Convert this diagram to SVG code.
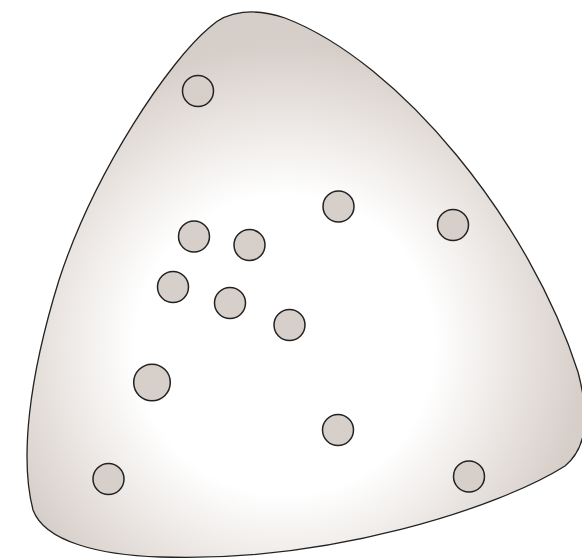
<svg xmlns="http://www.w3.org/2000/svg" width="582" height="560" viewBox="0 0 582 560">
<style>
.dot{fill:#d7cfca;stroke:#222;stroke-width:1.5}
.blob{stroke:#222;stroke-width:1.3}
</style>
<defs>
<radialGradient id="g" gradientUnits="userSpaceOnUse" cx="285" cy="345" r="300">
<stop offset="0" stop-color="#ffffff"/>
<stop offset="0.5" stop-color="#ffffff"/>
<stop offset="0.82" stop-color="#e6e0dc"/>
<stop offset="1" stop-color="#d6cec9"/>
</radialGradient>
</defs>
<g id="region">
<path class="blob" fill="url(#g)" d="M 210 27 C 228 10, 255 8, 285 18 C 400 62, 530 222, 578 372 C 588 410, 590 445, 565 466 C 500 507, 330 563, 160 557 C 100 555, 45 542, 33 510 C 20 460, 28 380, 59 280 C 95 170, 170 60, 210 27 Z"/>
</g>
<g id="connectors"></g>
<g id="n1"><circle class="dot" cx="198" cy="91" r="15.5"/></g>
<g id="n2"><circle class="dot" cx="338.5" cy="206.5" r="15.5"/></g>
<g id="n3"><circle class="dot" cx="453" cy="225" r="15.5"/></g>
<g id="n4"><circle class="dot" cx="194" cy="236.5" r="15.5"/></g>
<g id="n5"><circle class="dot" cx="249.5" cy="245" r="15.5"/></g>
<g id="n6"><circle class="dot" cx="173" cy="287" r="15.5"/></g>
<g id="n7"><circle class="dot" cx="230" cy="303" r="15.5"/></g>
<g id="n8"><circle class="dot" cx="289.5" cy="325" r="15.5"/></g>
<g id="n9"><circle class="dot" cx="152" cy="382.5" r="18.3"/></g>
<g id="n10"><circle class="dot" cx="338" cy="430" r="15.5"/></g>
<g id="n11"><circle class="dot" cx="108.5" cy="479" r="15.5"/></g>
<g id="n12"><circle class="dot" cx="469" cy="476.5" r="15.5"/></g>
</svg>
